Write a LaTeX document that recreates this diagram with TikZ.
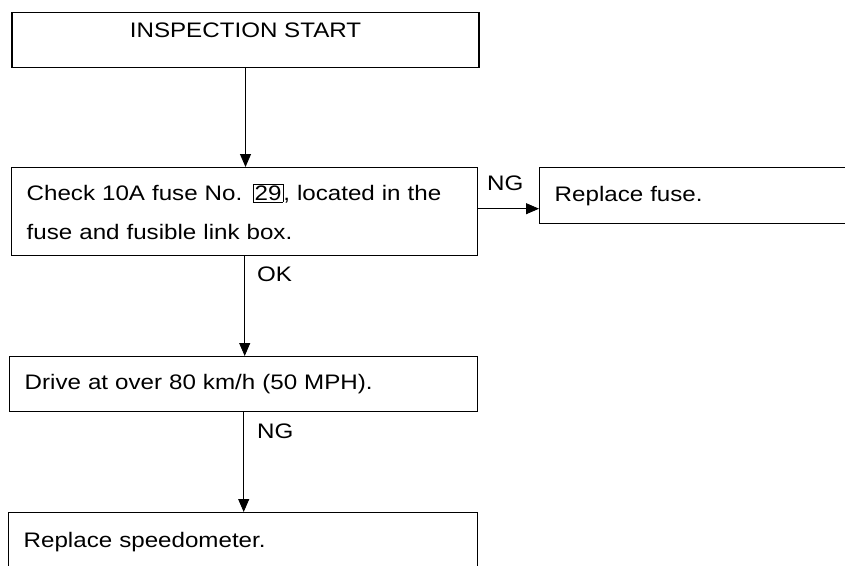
\documentclass[tikz,border=0pt]{standalone}
\usepackage{fontspec}
\setmainfont{Liberation Sans}[FakeStretch=1.15]
\usetikzlibrary{arrows.meta}

\begin{document}
\begin{tikzpicture}[x=1pt, y=-1pt,
    box/.style={rectangle, draw, line width=1.4pt, anchor=north west, inner xsep=15pt, inner ysep=0pt, align=left, font=\fontsize{21}{39}\selectfont},
    lbl/.style={anchor=base west, inner sep=0pt, font=\fontsize{21}{24}\selectfont},
    arr/.style={-{Triangle[length=13pt, width=11pt]}, line width=0.9pt}]

    \useasboundingbox (0,0) rectangle (845,565);

    \node[box, anchor=north, align=center, minimum width=467pt, inner ysep=10pt, text height=15pt, text depth=20pt] (start) at (245.5,12) {INSPECTION START};
    \node[box, text width=436pt, minimum height=88pt] (check) at (11,167) {Check 10A fuse No. {\setlength\fboxsep{1pt}\setlength\fboxrule{0.8pt}\fbox{29}}, located in the\\fuse and fusible link box.};
    \node[box, text width=290pt, minimum height=56pt] (fuse) at (539,167) {Replace fuse.};
    \node[box, text width=438pt, minimum height=55pt] (drive) at (9,356) {Drive at over 80 km/h (50 MPH).};
    \node[box, text width=439pt, minimum height=58pt] (meter) at (8,512) {Replace speedometer.};

    \node[lbl] (ng1) at (487,190) {NG};
    \node[lbl] (ok) at (257,281) {OK};
    \node[lbl] (ng2) at (257,438) {NG};

    \draw[arr] (start.south) -- (start.south |- check.north);
    \draw[arr] ([yshift=3pt]check.east) -- ([yshift=3pt]check.east -| fuse.west);
    \draw[arr] (check.south) -- (check.south |- drive.north);
    \draw[arr] (drive.south) -- (drive.south |- meter.north);
\end{tikzpicture}
\end{document}
